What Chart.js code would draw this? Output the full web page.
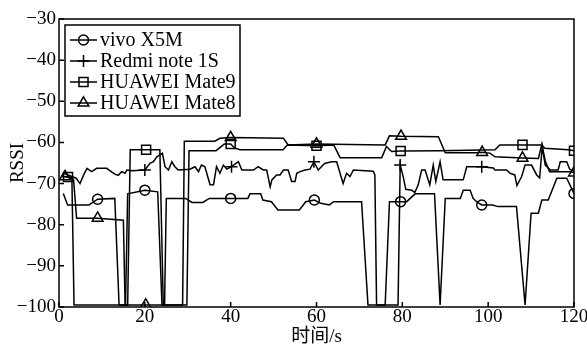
<!DOCTYPE html>
<html>
<head>
<meta charset="utf-8">
<script src="https://cdn.jsdelivr.net/npm/chart.js@4.4.0/dist/chart.umd.min.js"></script>
<style>
  html, body { margin: 0; padding: 0; background: #fff; }
</style>
</head>
<body>
<canvas id="rssiChart" width="587" height="348"></canvas>
<script>
// axis ticks
const xTicks = [0, 20, 40, 60, 80, 100, 120];
const yTicks = [-100, -90, -80, -70, -60, -50, -40, -30];
const xTitle = "时间/s";
const yTitle = "RSSI";

// series names (legend order)
const seriesNames = ["vivo X5M", "Redmi note 1S", "HUAWEI Mate9", "HUAWEI Mate8"];

// [time s, RSSI]
const vivoX5M = [[1,-72.4],[2,-75.2],[7,-75.2],[9,-73.8],[13,-73.6],[14,-99.5],[15.5,-99.5],[16,-72.5],[20,-71.6],[23,-72],[24,-99.5],[24.6,-99.5],[25,-73.6],[29.5,-73.6],[31,-74.6],[33.5,-74.6],[35,-73.6],[40,-73.6],[44,-73.6],[44.5,-72.5],[47,-72.5],[47.5,-74],[49.5,-74.4],[51,-76.4],[56,-76.4],[57.5,-74.4],[59.5,-74],[61,-74.8],[63,-75.2],[64,-74.4],[70.5,-74.4],[72,-99.5],[76,-99.5],[77,-74.4],[79.6,-74.4],[81,-74.4],[83,-72.5],[87.5,-72.5],[88.8,-99.5],[90,-73.6],[93.5,-73.6],[94.2,-71.6],[95.8,-71.6],[96.5,-73.6],[97.3,-74.4],[98.5,-75.2],[101,-75.2],[102.3,-75.6],[106.6,-75.6],[108.6,-99.5],[110,-77.2],[111.7,-77.2],[112.5,-74],[114,-74],[116,-68.7],[118.3,-68.7],[120,-72.4]];
const redmiNote1S = [[1,-67.5],[4,-68.7],[4.9,-70],[5.7,-68],[6.5,-66.3],[7.6,-67.1],[8.8,-66.3],[11.1,-66.3],[13,-67.7],[13.8,-68],[14.6,-67.1],[15.4,-67.5],[15.8,-66.7],[17,-66.9],[20,-66.7],[21.2,-65.1],[22,-64.7],[22.8,-63.5],[24.1,-62.6],[24.7,-65.9],[25.5,-66.7],[26.3,-64.7],[27,-65.9],[27.8,-66.7],[30.5,-66.5],[31.7,-65.9],[32.5,-67.1],[33.2,-65.5],[34,-65.9],[35.2,-70.3],[36,-70.3],[36.7,-65.9],[37.5,-67.5],[38.3,-65.5],[39.1,-66.5],[40.2,-65.9],[41.8,-64.7],[42.6,-66.7],[45.3,-66.7],[46.4,-65.9],[47.6,-66.7],[48.4,-66.7],[49.2,-70.8],[49.6,-69.1],[50.7,-67.9],[51.5,-67.9],[52.3,-66.7],[53.4,-66.7],[54.2,-69.5],[55,-69.5],[55.4,-67.5],[56.2,-67.1],[57.3,-66.7],[58.5,-66.5],[59.4,-64.7],[60.4,-66.7],[61.9,-65.1],[63.5,-64.7],[64.7,-64.7],[66.2,-70],[67,-67.5],[67.8,-68.3],[68.6,-66.7],[73.2,-67],[73.6,-67.9],[74,-99.5],[79,-99.5],[79.5,-65.5],[80.2,-68.3],[80.8,-71.4],[82.2,-71.6],[82.9,-72.2],[83.7,-70.3],[84.5,-66.7],[85.3,-66.7],[86.4,-70.3],[87.2,-65.5],[87.8,-69.5],[88.8,-64.7],[89.5,-69.1],[94.2,-69.1],[95,-65.9],[98.5,-65.9],[101.2,-66.2],[101.6,-66.7],[104.3,-66.7],[105.1,-67.5],[106.2,-67.9],[106.7,-70.5],[107.8,-68.3],[108.6,-65.5],[110.1,-65.5],[111.3,-67.9],[112,-68.6],[112.6,-61],[113.3,-65.5],[114.5,-66.7],[116.3,-66.7],[116.8,-64.7],[118.3,-64.7],[119,-66.5],[120,-67]];
const huaweiMate9 = [[0.5,-68.3],[2.1,-68.4],[3,-68.5],[3.5,-99.5],[16,-99.5],[16.6,-61.8],[20.3,-61.8],[23.5,-61.8],[24.3,-99.5],[29.8,-99.5],[30.3,-62],[36.6,-62],[38.5,-60.4],[40,-60.4],[41,-61.4],[42.2,-61.8],[52.2,-61.8],[53.2,-60.6],[60,-60.8],[64,-60.6],[65.5,-63.7],[75.2,-63.7],[76.3,-61],[77.5,-62.2],[79.6,-62.1],[88.8,-62],[101.6,-61.8],[102.7,-60.6],[108,-60.6],[112.5,-60.6],[113.2,-61.4],[118.7,-61.8],[120,-62]];
const huaweiMate8 = [[1.4,-68.3],[3,-68.7],[3.4,-69.1],[4.1,-78.4],[9,-78.4],[15,-78.9],[15.4,-99.5],[20.2,-99.5],[28.8,-99.5],[29.2,-59.7],[36.3,-59.7],[37.5,-59],[40,-58.8],[52.3,-59],[53.4,-60.6],[60,-60.4],[76,-60.6],[77,-58.4],[79.7,-58.5],[88.4,-58.6],[90,-62.5],[97.3,-62.5],[98.6,-62.4],[100.4,-62.6],[101.6,-63.5],[108,-63.8],[111.7,-63.9],[112.5,-60.5],[113.3,-64.5],[114.3,-67.1],[119,-67.1],[120,-67.4]];

// x positions that carry a marker
const vivoMarks = [9, 20, 40, 59.5, 79.6, 98.5, 120];
const redmiMarks = [20, 40.2, 59.4, 79.5, 98.5];
const mate9Marks = [2.1, 20.3, 40, 60, 79.6, 108, 120];
const mate8Marks = [1.4, 9, 20.2, 40, 60, 79.7, 98.6, 108, 120];

const serif = "'Liberation Serif', 'Noto Sans CJK SC', serif";
const styles = [
  { pointStyle: "circle", r: 5 },
  { pointStyle: "cross", r: 6 },
  { pointStyle: "rect", r: 6.4 },
  { pointStyle: "triangle", r: 6.2 }
];

function makeSet(name, pts, marks, st) {
  return {
    label: name,
    data: pts.map(p => ({ x: p[0], y: p[1] })),
    borderColor: "#000",
    borderWidth: 1.5,
    tension: 0,
    fill: false,
    pointStyle: st.pointStyle,
    pointBorderColor: "#000",
    pointBackgroundColor: "rgba(0,0,0,0)",
    pointBorderWidth: 1.5,
    pointRadius: c => (c.raw && marks.includes(c.raw.x)) ? st.r : 0,
    pointHoverRadius: 0
  };
}

// box, inward ticks
const framePlugin = {
  id: "frame",
  afterDatasetsDraw(chart) {
    const { ctx, chartArea: a, scales } = chart;
    ctx.save();
    ctx.strokeStyle = "#000";
    ctx.lineWidth = 1.5;
    ctx.strokeRect(a.left, a.top, a.right - a.left, a.bottom - a.top);
    ctx.beginPath();
    for (const t of scales.x.ticks) {
      const px = scales.x.getPixelForValue(t.value);
      ctx.moveTo(px, a.bottom);
      ctx.lineTo(px, a.bottom - 5);
    }
    for (const t of scales.y.ticks) {
      const py = scales.y.getPixelForValue(t.value);
      ctx.moveTo(a.left, py);
      ctx.lineTo(a.left + 5, py);
    }
    ctx.stroke();
    ctx.restore();
  }
};

// legend in the top left corner of the plot
const boxLegend = {
  id: "boxLegend",
  afterDraw(chart) {
    const ctx = chart.ctx;
    const a = chart.chartArea;
    const bx = a.left + 6, by = a.top + 6, bw = 175, bh = 91;
    ctx.save();
    ctx.fillStyle = "#fff";
    ctx.fillRect(bx, by, bw, bh);
    ctx.strokeStyle = "#000";
    ctx.lineWidth = 1.5;
    ctx.strokeRect(bx, by, bw, bh);
    ctx.font = "20px " + serif;
    ctx.textBaseline = "middle";
    chart.data.datasets.forEach((ds, i) => {
      const cy = by + 15 + i * 21;
      ctx.beginPath();
      ctx.moveTo(bx + 5, cy);
      ctx.lineTo(bx + 32, cy);
      ctx.stroke();
      ctx.fillStyle = "rgba(0,0,0,0)";
      Chart.helpers.drawPoint(ctx, {
        pointStyle: styles[i].pointStyle,
        radius: styles[i].r,
        borderWidth: 1.5,
        rotation: 0
      }, bx + 18.5, cy);
      ctx.fillStyle = "#000";
      ctx.fillText(ds.label, bx + 35, cy + 1);
    });
    ctx.restore();
  }
};

const minus = v => String(v).replace("-", "\u2212");

new Chart(document.getElementById("rssiChart"), {
  type: "line",
  data: {
    datasets: [
      makeSet(seriesNames[0], vivoX5M, vivoMarks, styles[0]),
      makeSet(seriesNames[1], redmiNote1S, redmiMarks, styles[1]),
      makeSet(seriesNames[2], huaweiMate9, mate9Marks, styles[2]),
      makeSet(seriesNames[3], huaweiMate8, mate8Marks, styles[3])
    ]
  },
  options: {
    responsive: false,
    animation: false,
    events: [],
    layout: { padding: { top: 19, right: 13, left: 0, bottom: 0 } },
    plugins: { legend: { display: false }, tooltip: { enabled: false } },
    scales: {
      x: {
        type: "linear",
        min: 0,
        max: 120,
        afterBuildTicks: s => { s.ticks = xTicks.map(v => ({ value: v })); },
        afterFit: s => { s.height = 41; s.paddingLeft = 0; s.paddingRight = 0; },
        grid: { display: false, drawTicks: false, tickLength: 0 },
        border: { display: false },
        ticks: { color: "#000", padding: 1, maxRotation: 0, font: { family: serif, size: 19, lineHeight: 1 }, callback: minus },
        title: { display: true, text: xTitle, color: "#000", padding: { top: 0, bottom: 1 }, font: { family: serif, size: 19, lineHeight: 1 } }
      },
      y: {
        min: -100,
        max: -30,
        afterBuildTicks: s => { s.ticks = yTicks.map(v => ({ value: v })); },
        afterFit: s => { s.width = 59; },
        grid: { display: false, drawTicks: false, tickLength: 0 },
        border: { display: false },
        ticks: { color: "#000", padding: 3, font: { family: serif, size: 19 }, callback: minus },
        title: { display: true, text: yTitle, color: "#000", padding: { top: 9, bottom: 0 }, font: { family: serif, size: 19, lineHeight: 1 } }
      }
    }
  },
  plugins: [framePlugin, boxLegend]
});
</script>
</body>
</html>
